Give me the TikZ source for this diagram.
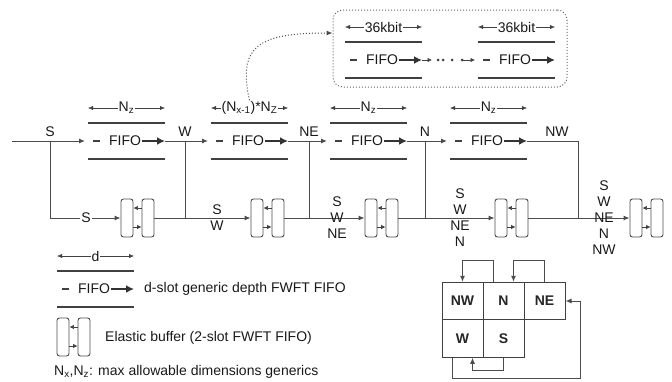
\documentclass[tikz,border=0pt]{standalone}
\usepackage{fontspec}
\setmainfont{Liberation Sans}
\usetikzlibrary{arrows.meta,positioning}
\tikzset{lbl/.style={font=\fontsize{14}{16}\selectfont,inner sep=1pt,align=center,text=black!90},
 bar/.style={line width=2pt,draw=black!75},
 dimarr/.style={{Latex[length=5pt,width=4pt]}-{Latex[length=5pt,width=4pt]},draw=black!75},
 wire/.style={draw=black!70,line width=1pt},
 arr/.style={wire,-{Latex[length=6pt,width=5pt]}},
 outarr/.style={line width=2pt,draw=black!80,-{Latex[length=8pt,width=8pt]}},
 slot/.style={draw=black!70,line width=0.9pt,rounded corners=2.5pt,minimum width=12pt,minimum height=38pt,inner sep=0pt},
 sarr/.style={draw=black!75,line width=0.7pt,-{Latex[length=4.5pt,width=4.5pt]}},
 cell/.style={draw=black!75,line width=1pt,minimum width=41pt,minimum height=37.5pt,inner sep=0pt,
  font=\fontsize{14}{16}\selectfont\bfseries,text=black!85}}
% FIFO block: name, left x, row y, depth label
\newcommand{\fifoblk}[4]{%
 \begin{scope}[shift={(#2,#3)}]
 \draw[bar] (0,-18) -- (77,-18);
 \draw[bar] (0,18) -- (77,18);
 \coordinate (#1-in) at (-3,0);
 \coordinate (#1-out) at (77,0);
 \coordinate (#1-l) at (0,-33);
 \coordinate (#1-r) at (77,-33);
 \draw[dimarr] (#1-l) -- node[lbl,fill=white] (#1-dim) {#4} (#1-r);
 \draw[bar] (5,0) -- (12,0);
 \node[lbl] (#1) at (37,0) {FIFO};
 \draw[outarr] (#1) -- (#1-out);
 \end{scope}}
% elastic buffer: name, left x, middle y
\newcommand{\ebuf}[3]{%
 \node[slot] (#1a) at (#2+6,#3) {};
 \node[slot] (#1b) at (#2+27,#3) {};
 \draw[sarr] ([yshift=10pt]#1b.west) -- ([yshift=10pt]#1a.east);
 \draw[sarr] ([yshift=-9pt]#1a.east) -- ([yshift=-9pt]#1b.west);}

\begin{document}
\begin{tikzpicture}[x=1pt,y=-1pt]
\useasboundingbox (0,0) rectangle (672,381);
% main FIFO chain
\fifoblk{f1}{88}{141}{N\textsubscript{z}}
\fifoblk{f2}{211}{141}{(N\textsubscript{x-1})*N\textsubscript{Z}}
\fifoblk{f3}{330}{141}{N\textsubscript{z}}
\fifoblk{f4}{450}{141}{N\textsubscript{z}}
\coordinate (src) at (12,141);
\coordinate (jS) at (50,141);
\coordinate (jW) at (185,141);
\coordinate (jNE) at (309,141);
\coordinate (jN) at (425,141);
\coordinate (jNW) at (578,141);
\node[lbl,above=3pt of jS] (lS) {S};
\node[lbl,above=3pt of jW] (lW) {W};
\node[lbl,above=3pt of jNE] (lNE) {NE};
\node[lbl,above=3pt of jN] (lN) {N};
\node[lbl,above=3pt of jNW,xshift=-21pt] (lNW) {NW};
\draw[wire] (src) -- (jS);
\draw[arr] (jS) -- (f1-in);
\draw[wire] (f1-out) -- (jW);
\draw[arr] (jW) -- (f2-in);
\draw[wire] (f2-out) -- (jNE);
\draw[arr] (jNE) -- (f3-in);
\draw[wire] (f3-out) -- (jN);
\draw[arr] (jN) -- (f4-in);
\draw[wire] (f4-out) -- (jNW);
% elastic buffers
\ebuf{b1}{121}{218}
\ebuf{b2}{251}{218}
\ebuf{b3}{365}{218}
\ebuf{b4}{495}{218}
\ebuf{b5}{630}{218}
\draw[arr] (jS) |- (b1a.west);
\draw[wire] (b1b.east) -- (b1b.east -| jW);
\draw[arr] (jW) |- (b2a.west);
\draw[wire] (b2b.east) -- (b2b.east -| jNE);
\draw[arr] (jNE) |- (b3a.west);
\draw[wire] (b3b.east) -- (b3b.east -| jN);
\draw[arr] (jN) |- (b4a.west);
\draw[wire] (b4b.east) -- (b4b.east -| jNW);
\draw[arr] (jNW) |- (b5a.west);
\node[lbl,fill=white] (m1) at (86,218) {S};
\node[lbl] (m2) at (217,218) {S\\W};
\node[lbl] (m3) at (337,218) {S\\W\\NE};
\node[lbl] (m4) at (460,218) {S\\W\\NE\\N};
\node[lbl] (m5) at (604,218) {S\\W\\NE\\N\\NW};
% block RAM detail
\node[draw=black!60,dotted,line width=1pt,rounded corners=10pt,minimum width=234pt,minimum height=77pt] (bram) at (450,48.5) {};
\fifoblk{t1}{345}{60}{36kbit}
\fifoblk{t2}{478}{60}{36kbit}
\coordinate (d0) at (432,60);
\coordinate (d4) at (462,60);
\draw[sarr] (t1-out) -- (d0);
\fill[black!75] (438,60) circle (1.5) (443,60) circle (1.5) (452,60) circle (1.5) (462,60) circle (1.5);
\draw[sarr] (d4) -- (t2-in);
\draw[dotted,line width=1pt,draw=black!70,-{Latex[length=6pt,width=5pt]}] (f2-dim.north) .. controls (237,45) and (260,33) .. ([yshift=15.5pt]bram.west);
% legend
\fifoblk{lg}{57}{289}{d}
\node[lbl,anchor=west] (lgt) at (143,289) {d-slot generic depth FWFT FIFO};
\ebuf{lb}{57}{337}
\node[lbl,anchor=west] (lbt) at (104,338) {Elastic buffer (2-slot FWFT FIFO)};
\node[lbl,anchor=west] (note) at (53,372) {N\textsubscript{x},N\textsubscript{z}: max allowable dimensions generics};
% router ports
\node[cell] (nw) at (462.5,301) {NW};
\node[cell] (n) at (503.5,301) {N};
\node[cell] (ne) at (544.5,301) {NE};
\node[cell] (w) at (462.5,338.5) {W};
\node[cell] (s) at (503.5,338.5) {S};
\draw[arr] ([xshift=-10pt]n.north) -- ++(0,-21) -| (nw.north);
\draw[arr] (ne.north) -- ++(0,-21) -| ([xshift=10pt]n.north);
\draw[arr] (s.south) -- ++(0,13) -| ([xshift=10pt]w.south);
\draw[arr] ([xshift=-10pt]w.south) -- ++(0,21) -| ([xshift=15pt]ne.east) -- (ne.east);
\end{tikzpicture}
\end{document}
